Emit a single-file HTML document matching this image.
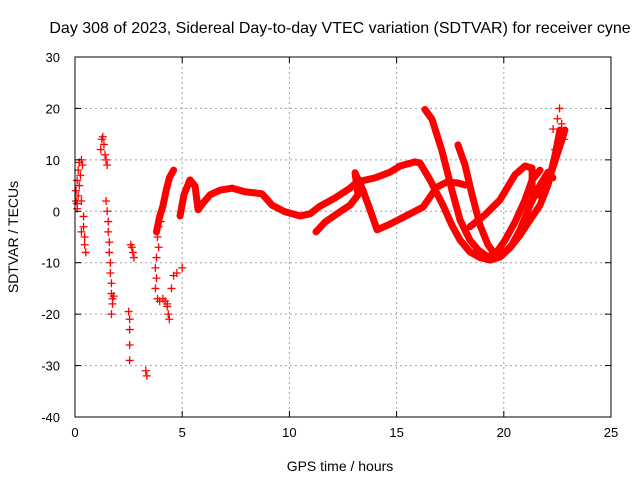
<!DOCTYPE html>
<html><head><meta charset="utf-8"><style>
body{margin:0;background:#fff}
svg{display:block;font-family:"Liberation Sans",sans-serif}
</style></head><body>
<svg id="chart" width="640" height="480">
<rect width="640" height="480" fill="#fff"/>
<text x="340" y="33" text-anchor="middle" font-size="16">Day 308 of 2023, Sidereal Day-to-day VTEC variation (SDTVAR) for receiver cyne</text>
<text x="340" y="471" text-anchor="middle" font-size="14">GPS time / hours</text>
<text transform="translate(18,237) rotate(-90)" text-anchor="middle" font-size="14">SDTVAR / TECUs</text>
<g id="grid"></g><g id="marks"></g><g id="axes"></g>
</svg>
<script>
const xTicks=[0,5,10,15,20,25];
const yTicks=[-40,-30,-20,-10,0,10,20,30];
const track0=[[3.8,-4],[3.95,-1],[4.1,1],[4.25,4],[4.4,6.5],[4.6,8]];
const track1=[[4.9,-0.9],[5.08,3.2],[5.36,6.1],[5.6,4.9],[5.74,0.3],[5.97,1.6],[6.3,3.2],[6.76,4.1],[7.32,4.5],[7.93,3.8],[8.72,3.4],[9.19,1.2],[9.79,-0.1],[10.49,-0.9],[10.96,-0.5],[11.43,1.0],[12.13,2.6],[12.83,4.5],[13.15,5.7]];
const track2=[[13.15,5.7],[13.99,6.5],[14.69,7.6],[15.16,8.8],[15.86,9.6],[16.09,9.4],[16.56,6.1],[17.16,1.2],[17.58,-2.7],[17.96,-5.6],[18.42,-7.9],[18.89,-9.0],[19.36,-9.5],[19.82,-8.9],[20.29,-7.1],[20.76,-4.6],[21.22,-1.7],[21.69,1.2],[22.06,5.1],[22.39,10.9],[22.62,15.8]];
const track3=[[11.24,-4],[11.66,-2.1],[12.36,-0.1],[12.83,1.2],[13.2,3.2],[13.06,7.5],[13.43,4.1],[13.76,0.3],[14.09,-3.6],[14.69,-2.5],[15.62,-0.5],[16.23,0.8],[16.88,4.7],[17.35,5.7],[17.86,5.5],[18.19,5.1]];
const track4=[[16.32,19.8],[16.65,17.9],[17.12,11.7],[17.58,4.1],[17.96,-1.7],[18.42,-5.6],[18.8,-7.5],[19.26,-8.9],[19.68,-7.9],[20.06,-5.6],[20.52,-2.1],[20.99,2.2],[21.32,6.1],[21.69,8.0]];
const track5=[[17.86,12.9],[18.19,9.0],[18.52,3.2],[18.89,-2.7],[19.26,-6.5],[19.59,-8.4],[19.96,-8.4],[20.38,-6.5],[20.76,-3.6],[21.22,1.2],[21.69,5.1],[22.06,7.6],[22.29,6.5]];
const track6=[[18.42,-3.0],[19.12,-0.7],[19.82,2.2],[20.52,7.1],[20.99,8.8],[21.32,8.4],[21.32,3.2],[21.69,3.2],[22.25,8.0],[22.71,13.9],[22.85,15.8]];
const scatterT=[0.05,0.1,0.05,0.1,0.15,0.2,0.3,0.35,0.25,0.2,0.15,0.3,0.1,0.4,0.4,0.45,0.45,0.5,0.3,1.2,1.25,1.3,1.35,1.4,1.45,1.5,1.45,1.5,1.55,1.55,1.6,1.6,1.65,1.65,1.7,1.7,1.75,1.8,1.75,1.7,2.6,2.65,2.7,2.75,2.5,2.55,2.55,2.55,2.55,3.3,3.35,3.75,3.8,3.75,3.85,3.8,3.9,3.85,3.9,4.0,3.95,4.1,4.2,4.3,4.3,4.35,4.4,4.5,4.6,4.75,5.0,22.5,22.6,22.7,22.8,22.3,22.4];
const scatterV=[2,1.5,4,6,8,9.5,10,9,7,5,3,2,0.5,-1,-3,-5,-6.5,-8,-4,12,14,14.5,13,11,10,9,2,0,-2,-4,-6,-8,-10,-12,-14,-16,-17,-16.5,-18,-20,-6.5,-7,-8,-9,-19.5,-21,-23,-26,-29,-31,-32,-11,-13,-15,-17,-9,-7,-5,-3,-2,-17.5,-17,-17.5,-18,-18.5,-20,-21,-15,-12.5,-12,-11,18,20,17,14,16,12];
const L=75,R=611,T=57,B=417;
const X=t=>L+(t-0)/(25-0)*(R-L);
const Y=v=>B-(v+40)/(70)*(B-T);
const NS="http://www.w3.org/2000/svg";
function mk(tag,attrs,parent){const e=document.createElementNS(NS,tag);for(const k in attrs)e.setAttribute(k,attrs[k]);parent.appendChild(e);return e;}
const grid=document.getElementById('grid'),marks=document.getElementById('marks'),axes=document.getElementById('axes');
xTicks.forEach(t=>{
 if(t>0&&t<25){const g=mk('line',{x1:X(t),x2:X(t),y1:T,y2:B,stroke:'#a0a0a0','stroke-dasharray':'2,3'},grid);
 
 }
 mk('line',{x1:X(t),x2:X(t),y1:B,y2:B-6,stroke:'#000'},axes);
 mk('line',{x1:X(t),x2:X(t),y1:T,y2:T+6,stroke:'#000'},axes);
 const tx=mk('text',{x:X(t),y:B+20,'text-anchor':'middle','font-size':13},axes);tx.textContent=t;
 
 
});
yTicks.forEach(v=>{
 if(v>-40&&v<30){const g=mk('line',{x1:L,x2:R,y1:Y(v),y2:Y(v),stroke:'#a0a0a0','stroke-dasharray':'2,3'},grid);
 
 }
 mk('line',{x1:L,x2:L+6,y1:Y(v),y2:Y(v),stroke:'#000'},axes);
 mk('line',{x1:R,x2:R-6,y1:Y(v),y2:Y(v),stroke:'#000'},axes);
 const tx=mk('text',{x:L-15,y:Y(v)+5,'text-anchor':'end','font-size':13},axes);tx.textContent=v;
 
 
});
const fr=mk('rect',{x:L,y:T,width:R-L,height:B-T,fill:'none',stroke:'#000'},axes);


[track0,track1,track2,track3,track4,track5,track6].forEach(tr=>{
 const p=mk('polyline',{points:tr.map(d=>X(d[0])+','+Y(d[1])).join(' '),fill:'none',stroke:'#ff0000','stroke-width':7,'stroke-linejoin':'round','stroke-linecap':'round'},marks);
 
 
});
scatterT.forEach((t,i)=>{
 const x=X(t),y=Y(scatterV[i]);
 const p=mk('path',{d:`M${x-4} ${y}H${x+4}M${x} ${y-4}V${y+4}`,stroke:'#ff0000','stroke-width':1.3},marks);
 
 
});
</script>
</body></html>
